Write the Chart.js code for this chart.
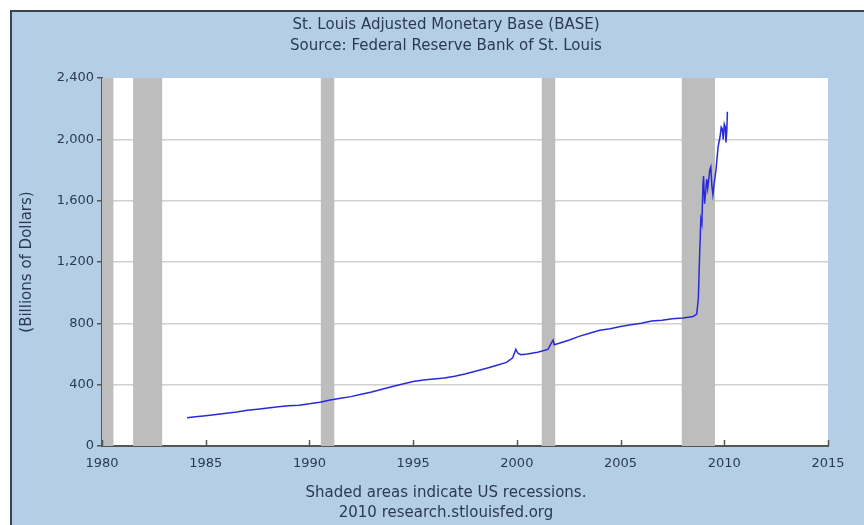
<!DOCTYPE html>
<html lang="en">
<head>
    <meta charset="UTF-8">
    <title>St. Louis Adjusted Monetary Base (BASE)</title>
    <script src="https://cdn.jsdelivr.net/npm/chart.js"></script>
    <style>
        body { margin: 0; background: #fff; }
        #wrap { width: 864px; height: 525px; }
    </style>
</head>
<body>
    <div id="wrap"><canvas id="baseChart" width="864" height="525"></canvas></div>
    <script>
        // Monetary base, billions of dollars
        const years = [
            1984.1, 1984.5, 1985, 1985.5, 1986, 1986.5, 1987, 1987.5, 1988, 1988.5,
            1989, 1989.5, 1990, 1990.5, 1991, 1991.5, 1992, 1992.5, 1993, 1993.5,
            1994, 1994.5, 1995, 1995.5, 1996, 1996.5, 1997, 1997.5, 1998, 1998.5,
            1999, 1999.5, 1999.8, 1999.95, 2000.05, 2000.2, 2000.5, 2001, 2001.5, 2001.7,
            2001.75, 2001.8, 2002, 2002.5, 2003, 2003.5, 2004, 2004.5, 2005, 2005.5,
            2006, 2006.5, 2007, 2007.5, 2008, 2008.5, 2008.67, 2008.75, 2008.8, 2008.87,
            2008.92, 2008.97, 2009.0, 2009.05, 2009.1, 2009.15, 2009.2, 2009.3, 2009.35, 2009.4,
            2009.45, 2009.5, 2009.6, 2009.7, 2009.8, 2009.85, 2009.9, 2009.95, 2010.0, 2010.05,
            2010.08, 2010.12, 2010.15
        ];
        const base = [
            185, 190, 197, 205, 213, 222, 233, 240, 248, 256,
            262, 266, 275, 286, 300, 312, 322, 337, 352, 370,
            388, 405, 420, 430, 437, 443, 455, 470, 487, 505,
            525, 545, 575, 630, 605, 595, 600, 612, 630, 680,
            690, 660, 668, 690, 715, 735, 755, 765, 780, 790,
            800, 815, 820, 830, 835, 845, 860, 960, 1200, 1480,
            1450, 1700, 1760, 1580, 1650, 1740, 1680, 1800, 1820, 1700,
            1640, 1700, 1800, 1950, 2020, 2080, 2070, 2000, 2100, 2080,
            1980, 2050, 2180
        ];
        // US recessions (decimal years)
        const recessionStart = [1980.0, 1981.5, 1990.55, 2001.2, 2007.95];
        const recessionEnd = [1980.55, 1982.9, 1991.2, 2001.85, 2009.55];

        const titleLines = ['St. Louis Adjusted Monetary Base (BASE)', 'Source: Federal Reserve Bank of St. Louis'];
        const footerLines = ['Shaded areas indicate US recessions.', '2010 research.stlouisfed.org'];
        const yTitle = '(Billions of Dollars)';

        const FONT = '"DejaVu Sans", Verdana, sans-serif';
        const TEXT = '#2b3a52';
        const AXIS = '#555';

        const points = years.map((y, i) => ({ x: y, y: base[i] }));

        // page background, frame, plot background, recession bars, texts
        const decor = {
            id: 'decor',
            beforeDraw(chart) {
                const ctx = chart.ctx;
                const a = chart.chartArea;
                ctx.save();
                ctx.fillStyle = '#fff';
                ctx.fillRect(0, 0, chart.width, chart.height);
                ctx.fillStyle = '#b5cee8';
                ctx.fillRect(11, 11, chart.width - 11, chart.height - 11);
                ctx.fillStyle = '#3a4450';
                ctx.fillRect(10, 10, chart.width - 10, 2);
                ctx.fillRect(10, 10, 2, chart.height - 10);
                ctx.fillStyle = '#fff';
                ctx.fillRect(a.left, a.top, a.right - a.left, a.bottom - a.top);
                ctx.restore();
            },
            beforeDatasetsDraw(chart) {
                const ctx = chart.ctx;
                const a = chart.chartArea;
                const xs = chart.scales.x;
                ctx.save();
                ctx.fillStyle = '#bdbdbd';
                recessionStart.forEach((s, i) => {
                    const x0 = xs.getPixelForValue(s);
                    const x1 = xs.getPixelForValue(recessionEnd[i]);
                    ctx.fillRect(x0, a.top, x1 - x0, a.bottom - a.top);
                });
                ctx.restore();
            },
            afterDraw(chart) {
                const ctx = chart.ctx;
                const a = chart.chartArea;
                const xs = chart.scales.x;
                ctx.save();
                // x tick marks point up into the plot
                ctx.strokeStyle = AXIS;
                ctx.lineWidth = 1.5;
                xs.ticks.forEach(t => {
                    const px = Math.round(xs.getPixelForValue(t.value)) + 0.5;
                    ctx.beginPath();
                    ctx.moveTo(px, a.bottom);
                    ctx.lineTo(px, a.bottom - 6);
                    ctx.stroke();
                });
                ctx.fillStyle = TEXT;
                ctx.font = '15px ' + FONT;
                ctx.textAlign = 'center';
                ctx.textBaseline = 'middle';
                ctx.fillText(titleLines[0], 446, 25);
                ctx.fillText(titleLines[1], 446, 46);
                ctx.fillText(footerLines[0], 446, 493);
                ctx.fillText(footerLines[1], 446, 513);
                ctx.translate(27, 262);
                ctx.rotate(-Math.PI / 2);
                ctx.fillText(yTitle, 0, 0);
                ctx.restore();
            }
        };

        new Chart(document.getElementById('baseChart'), {
            type: 'line',
            data: {
                datasets: [{
                    data: points,
                    borderColor: '#2a2ad8',
                    borderWidth: 1.5,
                    pointRadius: 0,
                    tension: 0
                }]
            },
            options: {
                responsive: false,
                animation: false,
                layout: { padding: { left: 12, right: 36, top: 78, bottom: 49 } },
                plugins: {
                    legend: { display: false },
                    tooltip: { enabled: false }
                },
                scales: {
                    x: {
                        type: 'linear',
                        min: 1980,
                        max: 2015,
                        afterFit: s => { s.height = 30; },
                        ticks: {
                            stepSize: 5,
                            callback: v => String(v),
                            color: TEXT,
                            font: { family: FONT, size: 13 },
                            padding: 10,
                            maxRotation: 0
                        },
                        grid: { color: 'rgba(0,0,0,0)', drawTicks: false },
                        border: { display: true, color: AXIS, width: 2 }
                    },
                    y: {
                        min: 0,
                        max: 2400,
                        afterFit: s => { s.width = 90; },
                        ticks: {
                            stepSize: 400,
                            callback: v => v.toLocaleString('en-US'),
                            color: TEXT,
                            font: { family: FONT, size: 13 },
                            padding: 3
                        },
                        grid: {
                            color: c => (c.tick && c.tick.value === 2400) ? 'rgba(0,0,0,0)' : '#d0d0d0',
                            lineWidth: 1.5,
                            tickColor: AXIS,
                            tickLength: 5
                        },
                        border: { display: true, color: AXIS, width: 2 }
                    }
                }
            },
            plugins: [decor]
        });
    </script>
</body>
</html>
